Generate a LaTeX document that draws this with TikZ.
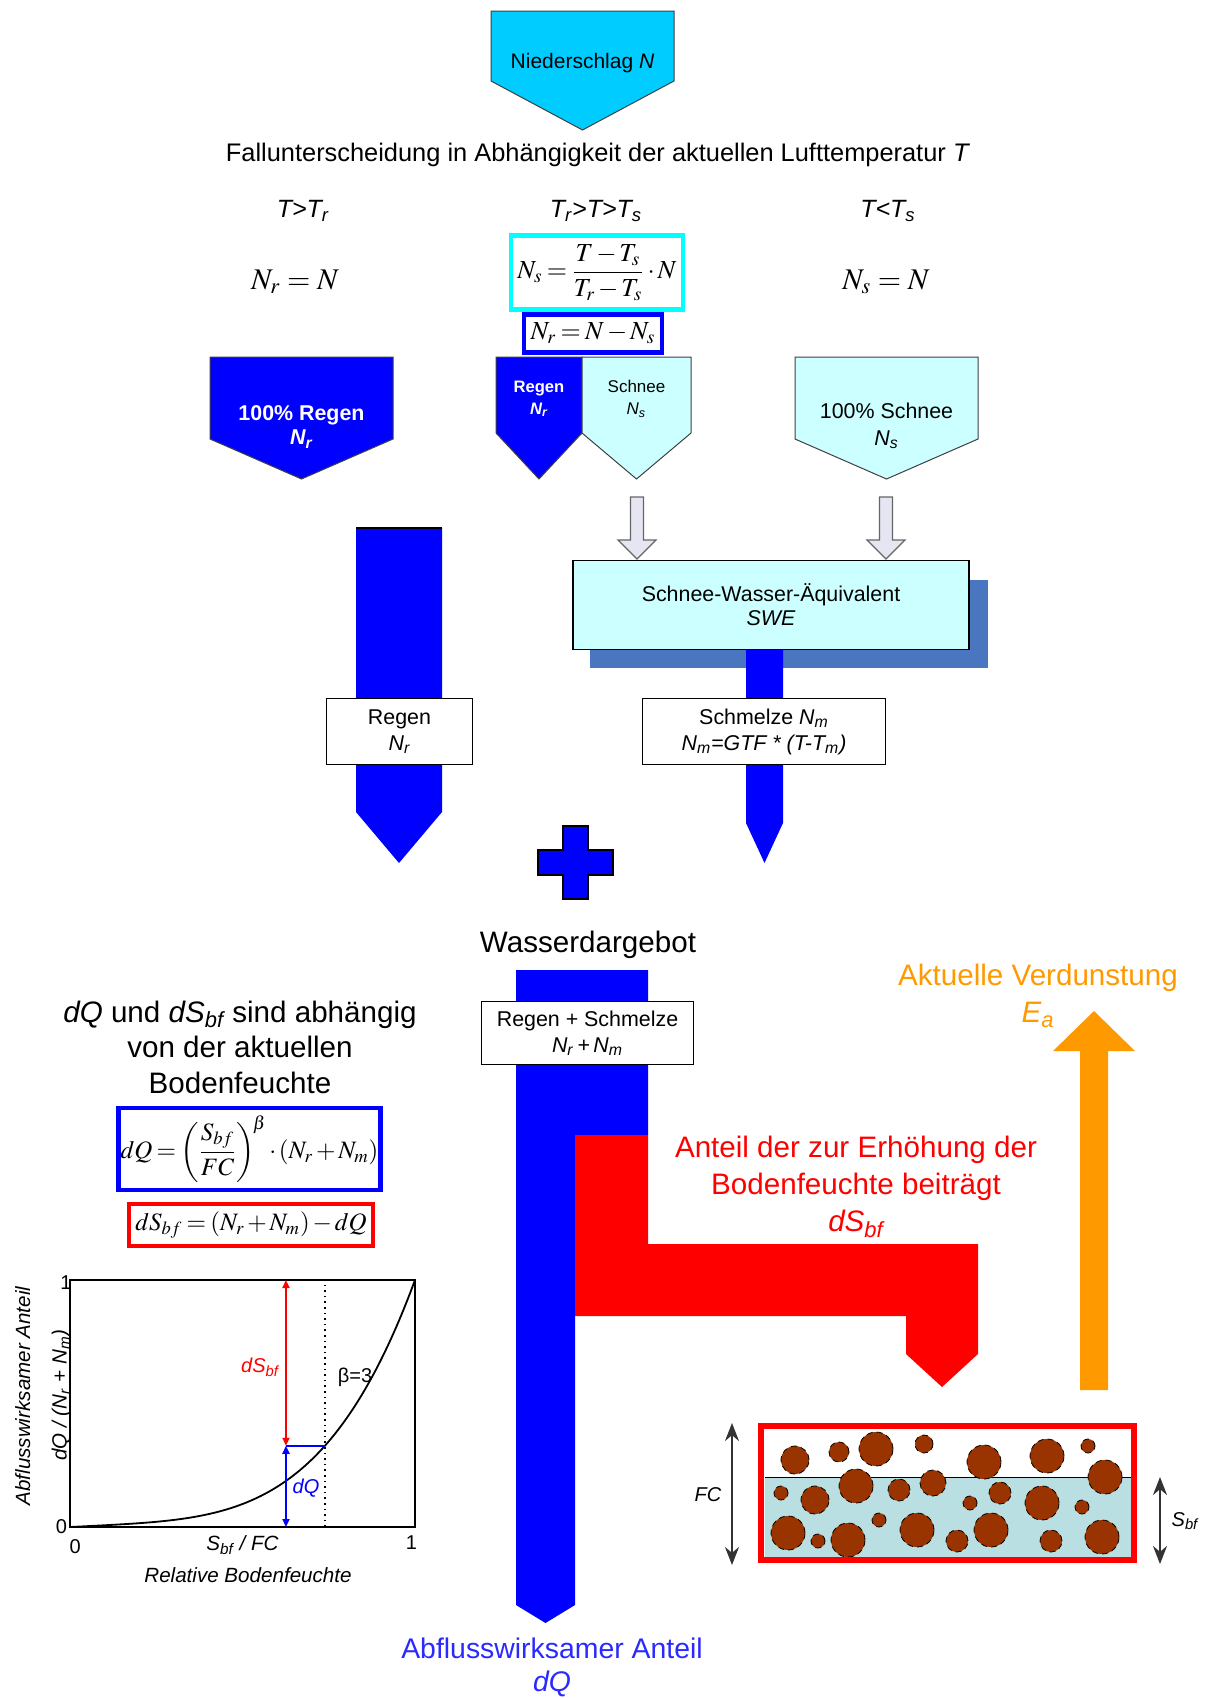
\documentclass[tikz,border=0pt]{standalone}
\usepackage{mathptmx}
\usepackage[no-math]{fontspec}
\setmainfont{Liberation Sans}
\usetikzlibrary{arrows.meta}

\definecolor{precip}{HTML}{00CCFF}
\definecolor{rain}{HTML}{0000FF}
\definecolor{snow}{HTML}{CCFFFF}
\definecolor{boxcyan}{HTML}{00FFFF}
\definecolor{sweshadow}{HTML}{4A76C0}
\definecolor{evap}{HTML}{FF9900}
\definecolor{soilwater}{HTML}{B9DFE3}
\definecolor{grain}{HTML}{993300}
\definecolor{hollow}{HTML}{E6E6F2}
\definecolor{runoff}{HTML}{2A2AFF}

\newcommand{\fsz}[2]{\fontsize{#1}{#2}\selectfont}
\newcommand{\subt}[1]{\textsubscript{#1}}
\newcommand{\tightmath}{\thickmuskip=3mu plus 1mu\medmuskip=2mu plus 1mu}

\tikzset{
  txt/.style={inner sep=0pt, align=center},
  outline/.style={draw=black!75, line width=0.5pt},
  infobox/.style={draw=black, line width=0.9pt, fill=white, inner sep=0pt,
                  align=center, font=\fsz{10.7}{13}\selectfont},
  eqbox/.style={line width=2.2pt, fill=white, inner sep=0pt},
  hollowarrow/.style={fill=hollow, draw=black!60, line width=0.6pt},
  grainball/.style={fill=grain, draw=black, densely dashed, line width=0.4pt},
  dimarrow/.style={{Stealth[length=9pt,width=7pt]}-{Stealth[length=9pt,width=7pt]},
                   line width=1pt, draw=black!80},
  plotarrow/.style={{Triangle[length=4pt,width=3.5pt]}-{Triangle[length=4pt,width=3.5pt]},
                    line width=0.9pt}
}

\begin{document}
\begin{tikzpicture}[x=0.5pt,y=-0.5pt]
\fill[white] (0,0) rectangle (1209,1698);
\path[use as bounding box] (0,0) rectangle (1209,1698);

% ---- precipitation and case distinction
\filldraw[fill=precip, outline] (491,11) -- (674,11) -- (674,81) -- (582.5,130) -- (491,81) -- cycle;
\node[txt, font=\fsz{10.5}{12}] (nlab) at (582.5,63) {Niederschlag \textit{N}};
\node[txt, font=\fsz{12.7}{15}] (case) at (598,155)
  {Fallunterscheidung in Abhängigkeit der aktuellen Lufttemperatur \textit{T}};
\node[txt, font=\fsz{12.5}{15}\itshape] (c1) at (303,211) {T>T\subt{r}};
\node[txt, font=\fsz{12.5}{15}\itshape] (c2) at (596,211) {T\subt{r}>T>T\subt{s}};
\node[txt, font=\fsz{12.5}{15}\itshape] (c3) at (888,211) {T<T\subt{s}};

\node[txt, font=\fsz{15}{18}] (f1) at (295,282) {$N_r=N$};
\node[txt, font=\fsz{15}{18}] (f3) at (886,282) {$N_s=N$};
\node[eqbox, draw=boxcyan, minimum width=86pt, minimum height=37pt, font=\fsz{13}{15}] (f2)
  at (597,272.5) {$\tightmath\displaystyle N_s=\frac{T-T_s}{T_r-T_s}\cdot N$};
\node[eqbox, draw=rain, minimum width=69pt, minimum height=19pt, font=\fsz{13}{15}] (f4)
  at (593,333.5) {$\tightmath N_r=N-N_s$};

% ---- split into rain and snow
\filldraw[fill=rain, outline] (210,357) -- (393,357) -- (393,439) -- (301.5,479) -- (210,439) -- cycle;
\node[txt, text=white, font=\fsz{10.7}{12}\bfseries] (r100) at (301.5,427)
  {100\% Regen\\\textit{N\subt{r}}};
\filldraw[fill=rain, outline] (496,357) -- (582,357) -- (582,433) -- (539,479) -- (496,433) -- cycle;
\node[txt, text=white, font=\fsz{8.3}{11}\bfseries] (rmix) at (539,399)
  {Regen\\\textit{N\subt{r}}};
\filldraw[fill=snow, outline] (582,357) -- (691,357) -- (691,433) -- (636.5,479) -- (582,433) -- cycle;
\node[txt, font=\fsz{8.5}{11}] (smix) at (636.5,399) {Schnee\\\textit{N\subt{s}}};
\filldraw[fill=snow, outline] (795,357) -- (978,357) -- (978,439) -- (886.5,479) -- (795,439) -- cycle;
\node[txt, font=\fsz{10.7}{13.5}] (s100) at (886.5,425.5) {100\% Schnee\\\textit{N\subt{s}}};

% ---- snow pack
\foreach \ax in {637,886}
  \filldraw[hollowarrow] (\ax-6.5,497) -- (\ax+6.5,497) -- (\ax+6.5,540) -- (\ax+19,540)
    -- (\ax,559) -- (\ax-19,540) -- (\ax-6.5,540) -- cycle;
\fill[sweshadow] (590,580) rectangle (988,668);
\fill[rain] (746,650) -- (783,650) -- (783,823) -- (764.5,863) -- (746,823) -- cycle;
\node[infobox, fill=snow, minimum width=198pt, minimum height=44.5pt, font=\fsz{10.7}{12}] (swe)
  at (771,605) {Schnee-Wasser-Äquivalent\\\textit{SWE}};
\node[infobox, minimum width=121.5pt, minimum height=33pt] (melt) at (764,731.5)
  {Schmelze \textit{N\subt{m}}\\\textit{N\subt{m}=GTF * (T-T\subt{m})}};

% ---- rain column
\fill[rain] (356,528) -- (442,528) -- (442,812) -- (399,863) -- (356,812) -- cycle;
\draw[line width=0.6pt] (356,528) -- (442,528);
\node[infobox, minimum width=73pt, minimum height=33pt] (rbox) at (399.5,731.5)
  {Regen\\\textit{N\subt{r}}};

% ---- plus sign
\filldraw[fill=rain, draw=black, line width=0.8pt]
  (563,826) -- (588,826) -- (588,850) -- (613,850) -- (613,875) -- (588,875) -- (588,899)
  -- (563,899) -- (563,875) -- (538,875) -- (538,850) -- (563,850) -- cycle;

% ---- water supply, runoff and soil moisture
\node[txt, font=\fsz{14.8}{18}] (supply) at (588,945) {Wasserdargebot};
\fill[rain] (516,970) -- (648,970) -- (648,1135) -- (575,1135) -- (575,1605) -- (545.5,1623)
  -- (516,1605) -- cycle;
\fill[red] (575,1135) -- (648,1135) -- (648,1244) -- (978,1244) -- (978,1354) -- (942,1387)
  -- (906,1354) -- (906,1316) -- (575,1316) -- cycle;
\node[infobox, minimum width=106pt, minimum height=31.5pt] (sum) at (587.5,1033)
  {Regen + Schmelze\\\textit{N\subt{r}\,+\,N\subt{m}}};
\node[txt, text=red, font=\fsz{14.8}{18.5}] (dsbf) at (856,1187)
  {Anteil der zur Erhöhung der\\Bodenfeuchte beiträgt\\\textit{dS\subt{bf}}};
\node[txt, text=runoff, font=\fsz{14.2}{16.5}] (dq) at (552,1667)
  {Abflusswirksamer Anteil\\\textit{dQ}};

% ---- evaporation
\fill[evap] (1080,1390) -- (1080,1051) -- (1053,1051) -- (1094,1011) -- (1135,1051)
  -- (1108,1051) -- (1108,1390) -- cycle;
\node[txt, text=evap, font=\fsz{14.8}{18.5}] (ea) at (1038,996)
  {Aktuelle Verdunstung\\\textit{E\subt{a}}};

% ---- soil moisture relations
\node[txt, font=\fsz{14.8}{17.75}] (dep) at (240,1047)
  {\textit{dQ} und \textit{dS\subt{bf}} sind abhängig\\von der aktuellen\\Bodenfeuchte};
\node[eqbox, draw=rain, minimum width=131pt, minimum height=41pt, font=\fsz{12.5}{15}] (eqdq)
  at (249.5,1149) {$\tightmath\displaystyle dQ=\left(\frac{S_{bf}}{FC}\right)^{\!\beta}\cdot(N_r+N_m)$};
\node[eqbox, draw=red, minimum width=122pt, minimum height=21pt, font=\fsz{12.5}{15}] (eqds)
  at (251,1225) {$\tightmath dS_{bf}=(N_r+N_m)-dQ$};

% ---- runoff curve
\begin{scope}[shift={(70,1527)}, x=172.5pt, y=123.5pt]
  \draw[line width=0.9pt] (0,0) rectangle (1,1);
  \draw[dotted, line width=0.8pt] (0.739,0) -- (0.739,1);
  \draw[line width=0.9pt] plot[domain=0:1, samples=80, smooth]
    (\x,{0.93*\x*\x*\x*\x+0.07*\x});
  \coordinate (ptop) at (0.626,1);
  \coordinate (plev) at (0.626,0.329);
  \coordinate (pbot) at (0.626,0);
  \coordinate (pcur) at (0.739,0.329);
  \draw[plotarrow, red] (ptop) -- (plev);
  \draw[plotarrow, blue] (plev) -- (pbot);
  \draw[blue, line width=0.9pt] (plev) -- (pcur);
  \node[txt, text=red, font=\fsz{10}{12}\itshape] (ldsbf) at (0.551,0.648) {dS\subt{bf}};
  \node[txt, text=blue, font=\fsz{10}{12}\itshape] (ldq) at (0.684,0.158) {dQ};
  \node[txt, font=\fsz{10}{12}] (lbeta) at (0.826,0.607) {β=3};
  \node[txt, font=\fsz{10}{12}] (y1) at (-0.012,0.99) {1};
  \node[txt, font=\fsz{10}{12}] (y0) at (-0.025,0.0) {0};
  \node[txt, font=\fsz{10}{12}] (x0) at (0.015,-0.08) {0};
  \node[txt, font=\fsz{10}{12}] (x1) at (0.99,-0.065) {1};
  \node[txt, font=\fsz{10.3}{12}\itshape] (xlab) at (0.5,-0.073) {S\subt{bf} / FC};
  \node[txt, font=\fsz{10.3}{12}\itshape] (xname) at (0.516,-0.194) {Relative Bodenfeuchte};
  \node[txt, rotate=90, font=\fsz{10.3}{12}\itshape] (yname) at (-0.137,0.53) {Abflusswirksamer Anteil};
  \node[txt, rotate=90, font=\fsz{10.3}{12}\itshape] (ylab) at (-0.025,0.534)
    {dQ / (N\subt{r} + N\subt{m})};
\end{scope}

% ---- soil column
\fill[soilwater] (765,1477) rectangle (1131,1559);
\draw[line width=0.5pt] (765,1477) -- (1131,1477);
\foreach \cx/\cy/\rr in {795/1460/14, 839/1452/10, 876/1449/17, 924/1444/9, 984/1462/17,
    1047/1456/17, 1088/1446/7, 1105/1477/17, 781/1493/7, 815/1500/14, 856/1486/17,
    899/1490/11, 933/1483/13, 970/1503/7, 1000/1493/11, 1042/1503/17, 1082/1507/7,
    788/1533/17, 818/1541/7, 848/1540/17, 879/1520/7, 917/1530/17, 957/1541/11,
    991/1530/17, 1051/1541/11, 1102/1537/17}
  \draw[grainball] (\cx,\cy) circle[radius={\rr*0.5pt}];
\draw[red, line width=3pt] (761,1426) rectangle (1134,1560);

\coordinate (fctop) at (732,1423);
\coordinate (fcbot) at (732,1565);
\draw[dimarrow] (fctop) -- (fcbot);
\node[txt, font=\fsz{10}{12}\itshape] (fc) at (708,1495) {FC};
\coordinate (sbftop) at (1160,1477);
\coordinate (sbfbot) at (1160,1564);
\draw[dimarrow] (sbftop) -- (sbfbot);
\node[txt, font=\fsz{10}{12}\itshape] (sbf) at (1185,1521) {S\subt{bf}};
\end{tikzpicture}
\end{document}
